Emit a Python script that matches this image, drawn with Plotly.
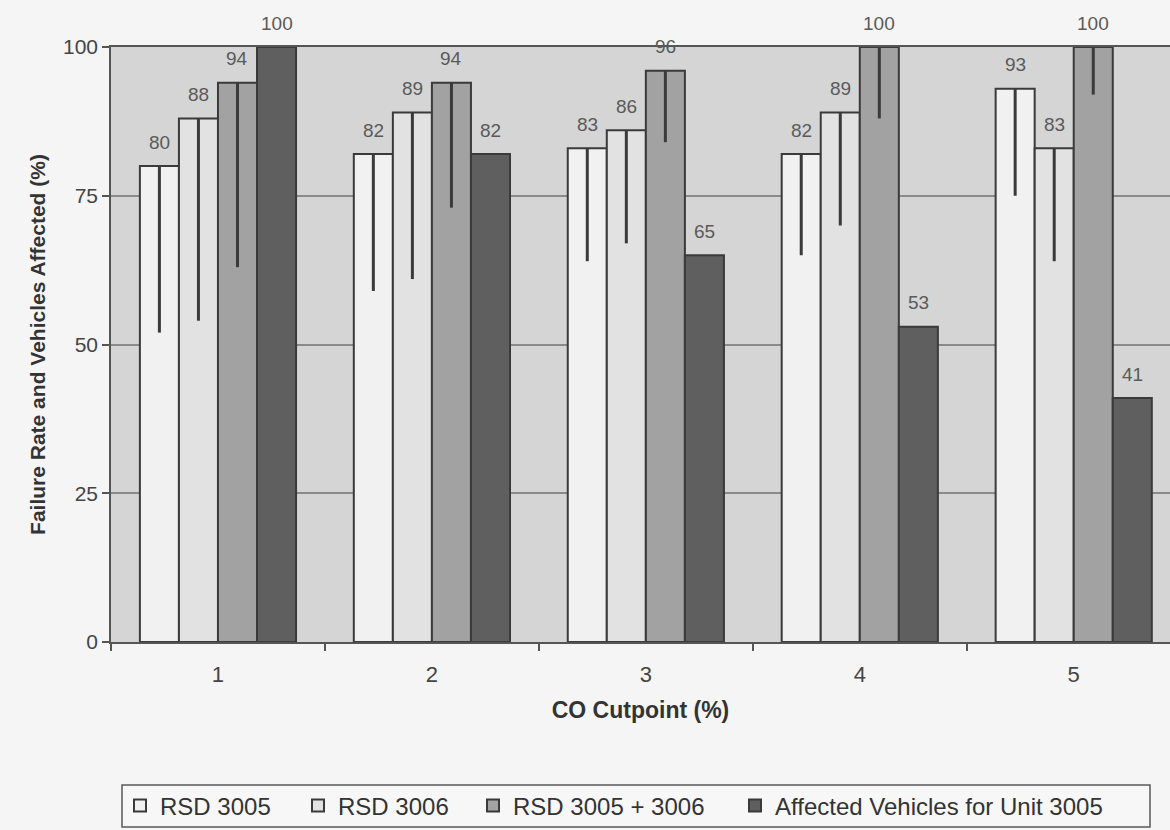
import plotly.graph_objects as go

# CO cutpoint categories (%)
cutpoints = ["1", "2", "3", "4", "5"]

# Failure rates (%) by remote sensing unit
rsd_3005 = [80, 82, 83, 82, 93]
rsd_3006 = [88, 89, 86, 89, 83]
rsd_both = [94, 94, 96, 100, 100]
affected_3005 = [100, 82, 65, 53, 41]

# Lower confidence bounds (%) for the failure rates
rsd_3005_low = [52, 59, 64, 65, 75]
rsd_3006_low = [54, 61, 67, 70, 64]
rsd_both_low = [63, 73, 84, 88, 92]

series = [
    ("RSD 3005", rsd_3005, rsd_3005_low, "#f1f1f1"),
    ("RSD 3006", rsd_3006, rsd_3006_low, "#e2e2e2"),
    ("RSD 3005 + 3006", rsd_both, rsd_both_low, "#a2a2a2"),
    ("Affected Vehicles for Unit 3005", affected_3005, None, "#5f5f5f"),
]

FONT = "Liberation Sans, Arial, sans-serif"
BARGAP = 0.27
W, H = 1170, 830
ML, MR, MT, MB = 111, 0, 47, 188
PW, PH = W - ML - MR, H - MT - MB

# legend entries: left edge of each entry in pixels
legend_left = [120, 298, 473, 735]
legend_ids = ["legend", "legend2", "legend3", "legend4"]

fig = go.Figure()
for k, (name, vals, low, color) in enumerate(series):
    err = None
    if low is not None:
        err = dict(
            type="data", symmetric=False,
            array=[0] * len(vals),
            arrayminus=[v - lo for v, lo in zip(vals, low)],
            color="#3a3a3a", thickness=3, width=0,
        )
    fig.add_trace(go.Bar(
        name=name, x=cutpoints, y=vals,
        marker=dict(color=color, line=dict(color="#3a3a3a", width=2)),
        error_y=err,
        legend=legend_ids[k],
    ))

# value labels above each bar
n = len(series)
w = (1 - BARGAP) / n
for k, (name, vals, low, color) in enumerate(series):
    for i, v in enumerate(vals):
        fig.add_annotation(
            x=i + (k - (n - 1) / 2) * w, y=v, xref="x", yref="y",
            text=str(v), showarrow=False, yanchor="middle", yshift=24,
            font=dict(family=FONT, size=19, color="#5a5a5a"),
        )

legend_layout = {}
for k, lid in enumerate(legend_ids):
    legend_layout[lid] = dict(
        x=(legend_left[k] - ML) / PW, y=(MT + PH - 806) / PH,
        xanchor="left", yanchor="middle",
        orientation="h", bgcolor="rgba(0,0,0,0)", borderwidth=0,
        font=dict(family=FONT, size=24, color="#333333"),
        itemwidth=30,
    )

fig.update_layout(
    width=W, height=H,
    margin=dict(l=ML, r=MR, t=MT, b=MB),
    paper_bgcolor="#f5f5f5",
    plot_bgcolor="#d5d5d5",
    barmode="group", bargap=BARGAP, bargroupgap=0,
    showlegend=True,
    font=dict(family=FONT, color="#444444"),
    xaxis=dict(
        type="category", range=[-0.5, 4.45],
        tickson="boundaries", ticks="outside", ticklen=7, tickwidth=1.5,
        tickcolor="#555555",
        showline=True, linecolor="#555555", linewidth=1.5, mirror=True,
        showgrid=False,
        tickfont=dict(family=FONT, size=22, color="#444444"),
        ticklabelstandoff=12,
        title=dict(text="<b>CO Cutpoint (%)</b>", standoff=16,
                   font=dict(family=FONT, size=23, color="#333333")),
    ),
    yaxis=dict(
        range=[0, 100], tickvals=[0, 25, 50, 75, 100],
        ticks="outside", ticklen=7, tickwidth=1.5, tickcolor="#555555",
        showline=True, linecolor="#555555", linewidth=1.5,
        showgrid=True, gridcolor="#8a8a8a", gridwidth=1.5,
        zeroline=False,
        tickfont=dict(family=FONT, size=21, color="#444444"),
        title=dict(text="<b>Failure Rate and Vehicles Affected (%)</b>",
                   standoff=12,
                   font=dict(family=FONT, size=21, color="#333333")),
    ),
    shapes=[dict(
        type="rect", xref="paper", yref="paper",
        x0=(122 - ML) / PW, x1=(1150 - ML) / PW,
        y0=(MT + PH - 827) / PH, y1=(MT + PH - 785) / PH,
        line=dict(color="#5a5a5a", width=1.5), fillcolor="#f7f7f7",
        layer="below",
    )],
    **legend_layout,
)

fig.update_traces(cliponaxis=False)
fig.write_html("out.html")
